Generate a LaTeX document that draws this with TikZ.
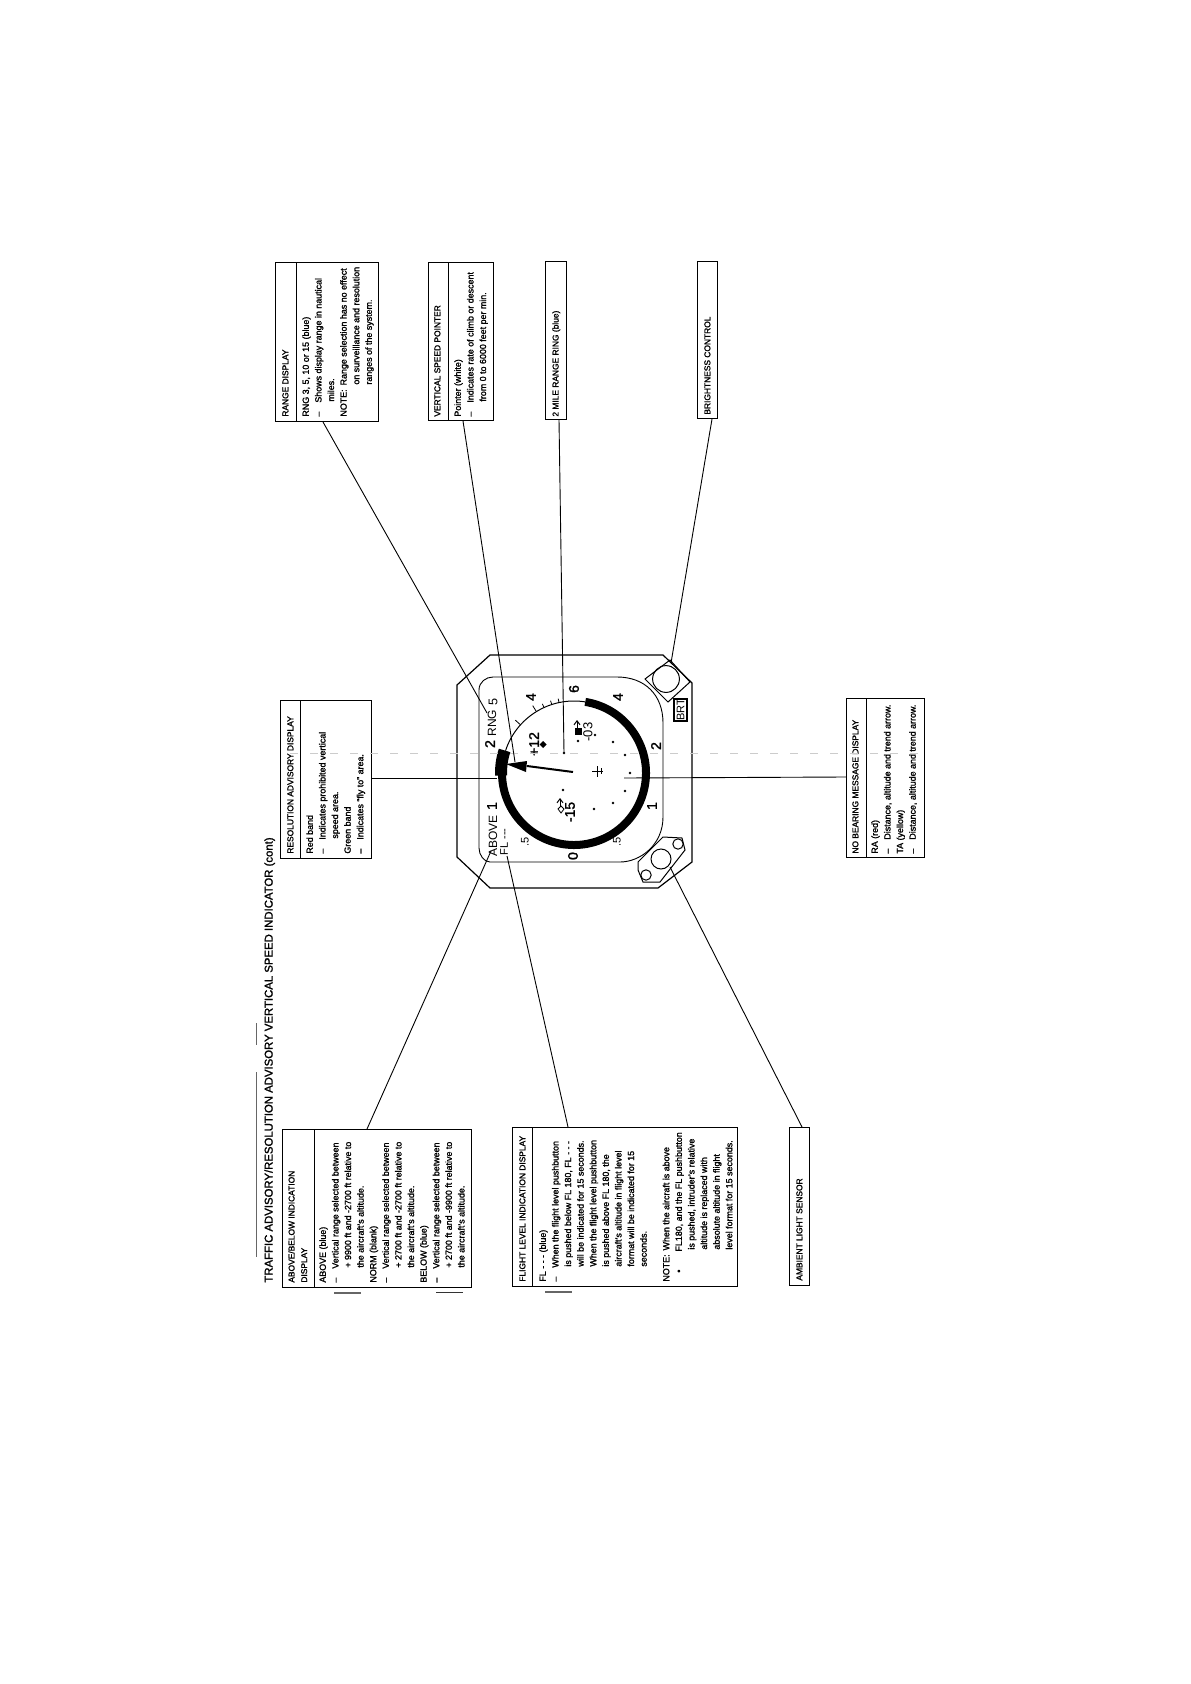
\documentclass[tikz,border=0pt]{standalone}
\usepackage{fontspec}
\usetikzlibrary{arrows.meta}
\setmainfont[FakeBold=1.6]{Liberation Sans}
\newfontfamily\plainf{Liberation Sans}
\newcommand{\ind}[1]{\hspace*{#1pt}}
\tikzset{
 bx/.style={draw=black,line width=0.5pt,fill=white},
 ln/.style={draw=black,line width=0.45pt},
 txt/.style={rotate=90,anchor=north west,inner sep=0pt,align=left,font=\fontsize{4.45}{6.3}\selectfont,text=black},
 hd/.style={txt,font=\fontsize{4.2}{6.3}\selectfont},
 dl/.style={rotate=90,inner sep=0pt,font=\plainf\fontsize{5.5}{6}\selectfont},
 dlb/.style={rotate=90,inner sep=0pt,font=\fontsize{7}{8}\selectfont},
}
\begin{document}
\begin{tikzpicture}[x=0.5pt,y=-0.5pt]
\useasboundingbox (0,0) rectangle (1190,1684);
\fill[white] (0,0) rectangle (1190,1684);
% title
\node[txt,font=\fontsize{5.68}{7}\selectfont] (title) at (264,1283) {TRAFFIC ADVISORY/RESOLUTION ADVISORY VERTICAL SPEED INDICATOR (cont)};
\draw[black!60,line width=0.4pt] (256,1023) -- (256,1045) (256,1072) -- (256,1257);
% change bars
\draw[black!60,line width=0.7pt] (334,1293) -- (361,1293);
\draw[black!80,line width=0.5pt] (436,1292) -- (463,1292);
\draw[black!60,line width=0.7pt] (545,1292) -- (572,1292);
% boxes
\draw[bx] (275,263) rectangle (378,422); \draw[bx] (296,263) -- (296,422);
\draw[bx] (428,263) rectangle (493,421); \draw[bx] (448,263) -- (448,421);
\draw[bx] (545,262) rectangle (566,420);
\draw[bx] (697,262) rectangle (717,419);
\draw[bx] (280,700) rectangle (371,858); \draw[bx] (300,700) -- (300,858);
\draw[bx] (846,698) rectangle (924,857); \draw[bx] (866,698) -- (866,857);
\draw[bx] (282,1129) rectangle (471,1287); \draw[bx] (314,1129) -- (314,1287);
\draw[bx] (512,1127) rectangle (737,1286); \draw[bx] (532,1127) -- (532,1286);
\draw[bx] (789,1127) rectangle (809,1285);
% box texts
\node[hd] (t1a) at (282,417) {RANGE DISPLAY};
\node[txt] (t1b) at (302,417) {RNG 3, 5, 10 or 15 (blue)\\--\ind{4.5}Shows display range in nautical\\\ind{7.5}miles.\\NOTE:\ind{2}Range selection has no effect\\\ind{16}on surveillance and resolution\\\ind{16}ranges of the system.};
\node[hd] (t2a) at (434,417) {VERTICAL SPEED POINTER};
\node[txt] (t2b) at (454,417) {Pointer (white)\\--\ind{4.5}Indicates rate of climb or descent\\\ind{7.5}from 0 to 6000 feet per min.};
\node[hd] (t3) at (552,417) {2 MILE RANGE RING (blue)};
\node[hd] (t4) at (704,415) {BRIGHTNESS CONTROL};
\node[hd] (t5a) at (287,854) {RESOLUTION ADVISORY DISPLAY};
\node[txt] (t5b) at (306,854) {Red band\\--\ind{4.5}Indicates prohibited vertical\\\ind{7.5}speed area.\\Green band\\--\ind{4.5}Indicates ``fly to'' area.};
\node[hd] (t6a) at (852,854) {NO BEARING MESSAGE DISPLAY};
\node[txt] (t6b) at (871,854) {RA (red)\\--\ind{4.5}Distance, altitude and trend arrow.\\TA (yellow)\\--\ind{4.5}Distance, altitude and trend arrow.};
\node[hd] (t7a) at (288,1283) {ABOVE/BELOW INDICATION\\DISPLAY};
\node[txt] (t7b) at (319,1283) {ABOVE (blue)\\--\ind{4.5}Vertical range selected between\\\ind{7.5}+ 9900 ft and -2700 ft relative to\\\ind{7.5}the aircraft's altitude.\\NORM (blank)\\--\ind{4.5}Vertical range selected between\\\ind{7.5}+ 2700 ft and -2700 ft relative to\\\ind{7.5}the aircraft's altitude.\\BELOW (blue)\\--\ind{4.5}Vertical range selected between\\\ind{7.5}+ 2700 ft and -9900 ft relative to\\\ind{7.5}the aircraft's altitude.};
\node[hd] (t8a) at (519,1282) {FLIGHT LEVEL INDICATION DISPLAY};
\node[txt] (t8b) at (539,1282) {FL - - - (blue)\\--\ind{4.5}When the flight level pushbutton\\\ind{7.5}is pushed below FL 180, FL - - -\\\ind{7.5}will be indicated for 15 seconds.\\\ind{7.5}When the flight level pushbutton\\\ind{7.5}is pushed above FL 180, the\\\ind{7.5}aircraft's altitude in flight level\\\ind{7.5}format will be indicated for 15\\\ind{7.5}seconds.\\[5pt]NOTE:\ind{2}When the aircraft is above\\{}\ind{4.5}•\ind{9}FL180, and the FL pushbutton\\\ind{16}is pushed, intruder's relative\\\ind{16}altitude is replaced with\\\ind{16}absolute altitude in flight\\\ind{16}level format for 15 seconds.};
\node[hd] (t9) at (796,1281) {AMBIENT LIGHT SENSOR};
% dial body
\draw[ln,line width=0.6pt] (490,655) -- (663,655) -- (692,683) -- (692,862) -- (658,888) -- (490,888) -- (457,857) -- (457,685) -- cycle;
\draw[ln] (493,677) -- (617,677) .. controls (645,677) and (663,695) .. (663,723) -- (663,817) .. controls (663,845) and (640,862) .. (620,862) -- (490,862) .. controls (484,862) and (479,855) .. (479,848) -- (479,690) .. controls (479,682) and (486,677) .. (493,677);
% ring: centre (574,773) r 72
\draw[line width=0.5pt] ([shift={(81:36pt)}]287pt,-386.5pt) arc (81:162:36pt);
\draw[line width=4pt] ([shift={(81:36pt)}]287pt,-386.5pt) arc (81:-180:36pt);
\draw[line width=6pt] ([shift={(162:36.5pt)}]287pt,-386.5pt) arc (162:182:36.5pt);
% ticks
\foreach \a/\l in {102/38,108/38,114.6/38,121.5/39.5,138/39.5}{
  \draw[line width=0.4pt] ([shift={(\a:36pt)}]287pt,-386.5pt) -- ([shift={(\a:\l pt)}]287pt,-386.5pt);
}
% dots
\foreach \x/\y in {630/773,625/755,625/791,613/742,613/803,594/809,595/735,578/741,563/790,564/753}{
  \fill (\x,\y) circle (0.7pt);
}
% aircraft
\draw[line width=0.5pt] (592,771) -- (603,771) (597,766) -- (597,777) (601,768) -- (601,774);
% pointer
\draw[line width=1pt] (573,772) -- (527,766);
\fill (506,764) -- (527,761) -- (526,772) -- cycle;
% scale labels
\node[dlb] (n6) at (574,689) {6};
\node[dlb] (n4a) at (531,697) {4};
\node[dlb] (n2a) at (490,744) {2};
\node[dlb] (n1a) at (492,806) {1};
\node[dl]  (n5a) at (525,842) {.5};
\node[dlb] (n0) at (573,856) {0};
\node[dl]  (n5b) at (617,842) {.5};
\node[dlb] (n1b) at (652,806) {1};
\node[dlb] (n2b) at (656,746) {2};
\node[dlb] (n4b) at (618,697) {4};
\node[dl,font=\plainf\fontsize{6}{7}\selectfont] (rng) at (492,723) {RNG};
\node[dl,font=\plainf\fontsize{6.3}{7}\selectfont] (n5) at (493,702) {5};
\node[dl,font=\plainf\fontsize{6}{7}\selectfont] (above) at (493,836) {ABOVE};
\node[dl,font=\plainf\fontsize{5.5}{7}\selectfont] (fl) at (504,842) {FL ---};
% traffic
\node[dlb] (p12) at (534,744) {+12};
\node[dlb] (m15) at (570,812) {-15};
\node[dlb,font=\plainf\fontsize{6.5}{8}\selectfont] (m03) at (588,732) {-03};
\fill (543,741) -- (546.5,744.5) -- (543,748) -- (539.5,744.5) -- cycle;
\draw[line width=0.4pt] (561,806) -- (564,809) -- (561,813) -- (558,809) -- cycle;
\fill (575,728) rectangle (582,735);
\draw[line width=0.5pt,-{Straight Barb[length=2pt,width=3pt]}] (577,728) -- (577,720);
\draw[line width=0.5pt,-{Straight Barb[length=2pt,width=3pt]}] (560,806) -- (560,798);
% knobs
\draw[line width=0.5pt] (670,660) -- (690,682) -- (668,702) -- (645,679) -- cycle;
\draw[line width=0.5pt] (666,679) circle (6.7pt);
\draw[line width=0.6pt] (674,699) rectangle (687,721);
\node[dl] (brt) at (680.5,710) {BRT};
\draw[line width=0.5pt] (663,837) -- (682,838) -- (685,850) -- (660,882) -- (643,882) -- (638,870) -- (638,862) -- cycle;
\draw[line width=0.5pt] (661,859) circle (5pt);
\draw[line width=0.5pt] (678,844) circle (2.6pt);
\draw[line width=0.5pt] (646,875) circle (2.6pt);
% faint line
\draw[black!20,line width=0.3pt,dash pattern=on 4pt off 6pt] (290,753) -- (922,753);
% connectors
\draw[ln] (323,422) -- (487,713);
\draw[ln] (463,421) -- (515,762);
\draw[ln] (559,420) -- (564,753);
\draw[ln] (712,419) -- (671,663);
\draw[ln] (371,778) -- (497,778);
\draw[ln] (846,777) -- (624,778);
\draw[ln] (367,1129) -- (491,851);
\draw[ln] (568,1127) -- (507,856);
\draw[ln] (802,1127) -- (670,867);
\end{tikzpicture}
\end{document}
